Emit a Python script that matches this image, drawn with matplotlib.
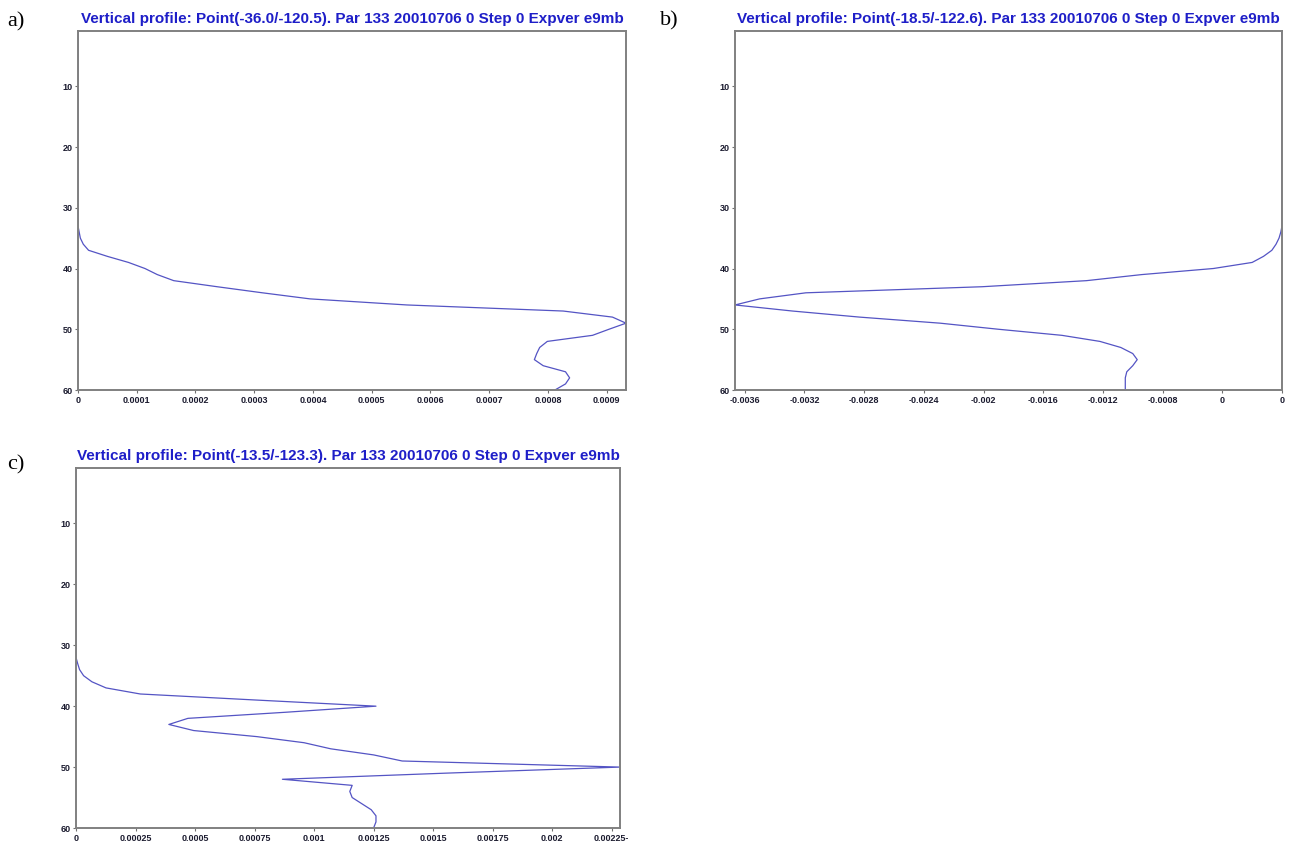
import numpy as np
import matplotlib.pyplot as plt

# ---- data (model level vs value) ----
levels = np.arange(1, 61)

# panel a: Point(-36.0/-120.5), values for levels 33..60 (zero above)
prof_a_tail = [0.0, 0.02e-4, 0.04e-4, 0.09e-4, 0.18e-4, 0.50e-4, 0.86e-4, 1.14e-4,
               1.35e-4, 1.63e-4, 2.37e-4, 3.14e-4, 3.95e-4, 5.60e-4, 8.26e-4, 9.10e-4,
               9.33e-4, 9.04e-4, 8.76e-4, 7.99e-4, 7.86e-4, 7.81e-4, 7.77e-4, 7.92e-4,
               8.30e-4, 8.37e-4, 8.30e-4, 8.12e-4]

# panel b: Point(-18.5/-122.6), levels 33..60
prof_b_tail = [0.0, -0.08e-4, -0.2e-4, -0.4e-4, -0.68e-4, -1.24e-4, -2.0e-4, -4.6e-4,
               -9.4e-4, -13.1e-4, -20.1e-4, -31.9e-4, -35.0e-4, -36.65e-4, -32.8e-4,
               -28.3e-4, -22.9e-4, -19.0e-4, -14.75e-4, -12.2e-4, -10.8e-4, -10.0e-4,
               -9.7e-4, -10.0e-4, -10.4e-4, -10.5e-4, -10.5e-4, -10.5e-4]

# panel c: Point(-13.5/-123.3), levels 33..60
prof_c_tail = [0.07e-4, 0.15e-4, 0.32e-4, 0.67e-4, 1.26e-4, 2.7e-4, 7.6e-4, 12.6e-4,
               8.8e-4, 4.7e-4, 3.9e-4, 4.94e-4, 7.6e-4, 9.58e-4, 10.7e-4, 12.5e-4,
               13.7e-4, 22.85e-4, 15.5e-4, 8.67e-4, 11.6e-4, 11.5e-4, 11.6e-4, 12.0e-4,
               12.4e-4, 12.6e-4, 12.6e-4, 12.5e-4]

titles = ["Vertical profile: Point(-36.0/-120.5). Par 133 20010706 0 Step 0 Expver e9mb",
          "Vertical profile: Point(-18.5/-122.6). Par 133 20010706 0 Step 0 Expver e9mb",
          "Vertical profile: Point(-13.5/-123.3). Par 133 20010706 0 Step 0 Expver e9mb"]
panel_tags = ["a)", "b)", "c)"]

xticks_a = [0, 0.0001, 0.0002, 0.0003, 0.0004, 0.0005, 0.0006, 0.0007, 0.0008, 0.0009]
xlabels_a = ["0", "0.0001", "0.0002", "0.0003", "0.0004", "0.0005", "0.0006", "0.0007", "0.0008", "0.0009"]
xticks_b = [-0.0036, -0.0032, -0.0028, -0.0024, -0.002, -0.0016, -0.0012, -0.0008, -0.0004, 0]
xlabels_b = ["-0.0036", "-0.0032", "-0.0028", "-0.0024", "-0.002", "-0.0016", "-0.0012", "-0.0008", "0", "0"]
xticks_c = [0, 0.00025, 0.0005, 0.00075, 0.001, 0.00125, 0.0015, 0.00175, 0.002, 0.00225]
xlabels_c = ["0", "0.00025", "0.0005", "0.00075", "0.001", "0.00125", "0.0015", "0.00175", "0.002", "0.00225-"]
yticks = [10, 20, 30, 40, 50, 60]


def full_profile(tail):
    vals = np.zeros(len(levels))
    vals[-len(tail):] = tail
    return vals


fig = plt.figure(figsize=(12.93, 8.44), dpi=100)

# axes boxes in pixels: left, top, right, bottom
boxes = [(78, 31, 626, 390), (735, 31, 1282, 390), (76, 468, 620, 828)]
tag_pos = [(7, 22), (660, 21), (7, 465)]
profiles = [prof_a_tail, prof_b_tail, prof_c_tail]
xt = [(xticks_a, xlabels_a), (xticks_b, xlabels_b), (xticks_c, xlabels_c)]

W, H = 1293, 844
line_col = '#5454c4'
for i in range(3):
    l, t, r, b = boxes[i]
    ax = fig.add_axes([l / W, 1 - b / H, (r - l) / W, (b - t) / H])
    vals = full_profile(profiles[i])
    ax.plot(vals, levels, color=line_col, lw=0.9)
    ax.set_xlim(vals.min(), vals.max())
    ax.set_ylim(60, 0.9)
    ax.set_yticks(yticks)
    ax.set_yticklabels([str(v) for v in yticks])
    ax.set_xticks(xt[i][0])
    ax.set_xticklabels(xt[i][1])
    for lab in ax.get_xticklabels() + ax.get_yticklabels():
        lab.set_fontsize(6.5)
        lab.set_fontweight('bold')
        lab.set_color('#1c1c30')
        lab.set_family('Liberation Sans')
    ax.tick_params(length=2.5, width=0.8, color='#707070', pad=1.5)
    for sp in ax.spines.values():
        sp.set_color('#808080')
        sp.set_linewidth(1.4)
    ax.set_title(titles[i], fontsize=11, fontweight='bold', color='#1e1ec8',
                 family='Liberation Sans', pad=6)
    fig.text(tag_pos[i][0] / W, 1 - tag_pos[i][1] / H, panel_tags[i],
             family='Liberation Serif', fontsize=16, va='center', ha='left')

fig.savefig('out.png', dpi=100)
